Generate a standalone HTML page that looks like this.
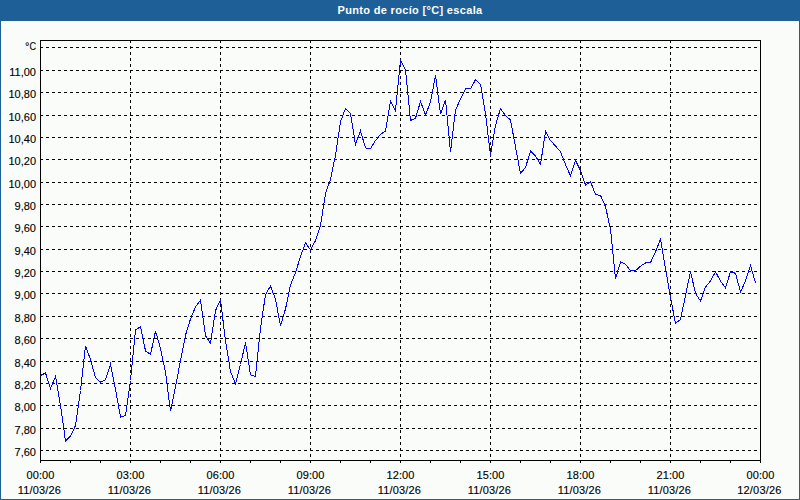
<!DOCTYPE html>
<html><head><meta charset="utf-8"><style>
html,body{margin:0;padding:0;background:#fafcfa;}
svg{display:block;}
svg text{font-family:"Liberation Sans",sans-serif;font-size:11px;fill:#000;stroke:#000;stroke-width:0.12px;}
svg text.t{fill:#fff;stroke:none;font-weight:bold;letter-spacing:0.33px;}
</style></head><body>
<svg width="800" height="500" viewBox="0 0 800 500">
<rect x="0" y="0" width="800" height="500" fill="#fafcfa"/>
<rect x="0" y="0" width="800" height="21" fill="#1e5f97"/>
<rect x="0" y="0" width="1" height="500" fill="#1e5f97"/>
<rect x="799" y="0" width="1" height="500" fill="#1e5f97"/>
<rect x="0" y="499" width="800" height="1" fill="#1e5f97"/>
<text class="t" x="410" y="14" text-anchor="middle">Punto de rocío [°C] escala</text>
<path d="M40 47.5H760M40 70.5H760M40 92.5H760M40 115.5H760M40 137.5H760M40 159.5H760M40 182.5H760M40 204.5H760M40 226.5H760M40 249.5H760M40 271.5H760M40 293.5H760M40 316.5H760M40 338.5H760M40 361.5H760M40 383.5H760M40 405.5H760M40 428.5H760M40 450.5H760M130.5 40V460M220.5 40V460M310.5 40V460M400.5 40V460M490.5 40V460M580.5 40V460M670.5 40V460" stroke="#000" stroke-width="1" stroke-dasharray="3 3" fill="none" shape-rendering="crispEdges"/>
<rect x="40.5" y="40.5" width="720" height="420" stroke="#000" fill="none" shape-rendering="crispEdges"/>
<path d="M40.5 461V463M70.5 461V463M100.5 461V463M130.5 461V463M160.5 461V463M190.5 461V463M220.5 461V463M250.5 461V463M280.5 461V463M310.5 461V463M340.5 461V463M370.5 461V463M400.5 461V463M430.5 461V463M460.5 461V463M490.5 461V463M520.5 461V463M550.5 461V463M580.5 461V463M610.5 461V463M640.5 461V463M670.5 461V463M700.5 461V463M730.5 461V463M760.5 461V463" stroke="#000" fill="none" shape-rendering="crispEdges"/>
<text x="25" y="50">°</text>
<text x="29.6" y="50" textLength="6.6" lengthAdjust="spacingAndGlyphs">C</text>
<text x="36" y="76" text-anchor="end">11,00</text>
<text x="36" y="98" text-anchor="end">10,80</text>
<text x="36" y="121" text-anchor="end">10,60</text>
<text x="36" y="143" text-anchor="end">10,40</text>
<text x="36" y="165" text-anchor="end">10,20</text>
<text x="36" y="188" text-anchor="end">10,00</text>
<text x="36" y="210" text-anchor="end">9,80</text>
<text x="36" y="232" text-anchor="end">9,60</text>
<text x="36" y="255" text-anchor="end">9,40</text>
<text x="36" y="277" text-anchor="end">9,20</text>
<text x="36" y="299" text-anchor="end">9,00</text>
<text x="36" y="322" text-anchor="end">8,80</text>
<text x="36" y="344" text-anchor="end">8,60</text>
<text x="36" y="367" text-anchor="end">8,40</text>
<text x="36" y="389" text-anchor="end">8,20</text>
<text x="36" y="411" text-anchor="end">8,00</text>
<text x="36" y="434" text-anchor="end">7,80</text>
<text x="36" y="456" text-anchor="end">7,60</text>
<text x="40.5" y="479" text-anchor="middle" letter-spacing="0.12">00:00</text>
<text x="39.4" y="494" text-anchor="middle" letter-spacing="0.18">11/03/26</text>
<text x="130.5" y="479" text-anchor="middle" letter-spacing="0.12">03:00</text>
<text x="129.4" y="494" text-anchor="middle" letter-spacing="0.18">11/03/26</text>
<text x="220.5" y="479" text-anchor="middle" letter-spacing="0.12">06:00</text>
<text x="219.4" y="494" text-anchor="middle" letter-spacing="0.18">11/03/26</text>
<text x="310.5" y="479" text-anchor="middle" letter-spacing="0.12">09:00</text>
<text x="309.4" y="494" text-anchor="middle" letter-spacing="0.18">11/03/26</text>
<text x="400.5" y="479" text-anchor="middle" letter-spacing="0.12">12:00</text>
<text x="399.4" y="494" text-anchor="middle" letter-spacing="0.18">11/03/26</text>
<text x="490.5" y="479" text-anchor="middle" letter-spacing="0.12">15:00</text>
<text x="489.4" y="494" text-anchor="middle" letter-spacing="0.18">11/03/26</text>
<text x="580.5" y="479" text-anchor="middle" letter-spacing="0.12">18:00</text>
<text x="579.4" y="494" text-anchor="middle" letter-spacing="0.18">11/03/26</text>
<text x="670.5" y="479" text-anchor="middle" letter-spacing="0.12">21:00</text>
<text x="669.4" y="494" text-anchor="middle" letter-spacing="0.18">11/03/26</text>
<text x="760.5" y="479" text-anchor="middle" letter-spacing="0.12">00:00</text>
<text x="759.4" y="494" text-anchor="middle" letter-spacing="0.18">12/03/26</text>
<polyline points="40.5,375.5 45.5,373.0 50.5,388.5 55.5,376.5 60.5,405.5 65.5,441.0 70.5,436.0 75.5,425.5 80.5,390.5 85.5,346.1 90.5,359.5 95.5,377.5 100.5,382.1 105.5,379.7 110.5,364.1 115.5,389.3 120.5,417.0 125.5,415.7 130.5,380.5 135.5,329.8 140.5,326.9 145.5,350.9 150.5,354.5 155.5,331.2 160.5,348.5 165.5,372.5 170.5,410.9 175.5,386.9 180.5,360.5 185.5,335.3 190.5,318.9 195.5,306.9 200.5,300.2 205.5,335.7 210.5,343.4 215.5,310.5 220.5,300.2 225.5,340.5 230.5,371.7 235.5,383.7 240.5,364.5 245.5,342.5 250.5,374.9 255.5,376.5 260.5,328.1 265.5,294.5 270.5,286.1 275.5,299.3 280.5,325.7 285.5,308.9 290.5,284.9 295.5,272.5 300.5,256.5 305.5,242.9 310.5,249.9 315.5,240.5 320.5,225.5 325.5,193.5 330.5,179.3 335.5,155.3 340.5,121.7 345.5,108.5 350.5,113.8 355.5,144.5 360.5,130.8 365.5,148.0 370.5,148.5 375.5,140.5 380.5,134.5 385.5,131.0 390.5,101.0 395.5,110.5 400.5,60.1 405.5,69.7 410.5,120.5 415.5,118.3 420.5,101.5 425.5,114.9 430.5,102.2 435.5,75.0 440.5,114.2 445.5,99.8 450.5,151.9 455.5,110.0 460.5,99.0 465.5,88.9 470.5,88.9 475.5,79.7 480.5,84.5 485.5,113.4 490.5,155.5 495.5,125.4 500.5,108.5 505.5,115.7 510.5,119.8 515.5,147.0 520.5,173.5 525.5,167.5 530.5,151.1 535.5,155.9 540.5,164.5 545.5,131.5 550.5,140.5 555.5,146.1 560.5,151.8 565.5,164.5 570.5,175.9 575.5,160.3 580.5,170.5 585.5,185.0 590.5,181.7 595.5,194.5 600.5,195.5 605.5,206.5 610.5,229.4 615.5,278.7 620.5,262.0 625.5,264.2 630.5,271.0 635.5,270.7 640.5,266.2 645.5,263.0 650.5,262.5 655.5,251.7 660.5,239.3 665.5,268.5 670.5,297.5 675.5,323.4 680.5,319.5 685.5,295.5 690.5,271.4 695.5,293.5 700.5,301.0 705.5,287.0 710.5,281.0 715.5,271.8 720.5,281.0 725.5,287.7 730.5,271.8 735.5,273.3 740.5,292.0 745.5,281.0 750.5,265.4 755.5,282.9" stroke="#0000ff" stroke-width="1" fill="none" shape-rendering="crispEdges"/>
</svg>
</body></html>
